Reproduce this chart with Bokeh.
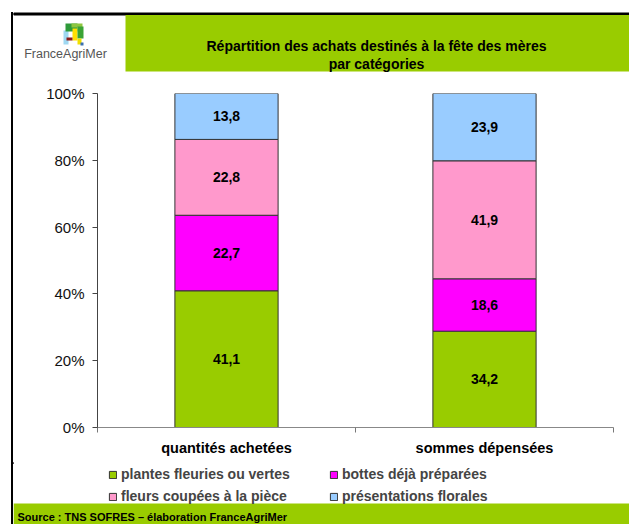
from bokeh.plotting import figure
from bokeh.layouts import column, row, Spacer
from bokeh.models import (ColumnDataSource, FixedTicker, NumeralTickFormatter, Range1d,
                          Legend, LegendItem, Div)
from bokeh.core.properties import value
from bokeh.embed import file_html
from bokeh.resources import INLINE

# ---- data ----
categories = ["quantités achetées", "sommes dépensées"]
series = ["plantes fleuries ou vertes", "bottes déjà préparées",
          "fleurs coupées à la pièce", "présentations florales"]
plantes = [41.1, 34.2]
bottes = [22.7, 18.6]
fleurs = [22.8, 41.9]
presentations = [13.8, 23.9]
colors = ["#99CC00", "#FF00FF", "#FF99CC", "#99CCFF"]
y_ticks = [0, 0.2, 0.4, 0.6, 0.8, 1.0]
title_lines = ["Répartition des achats destinés à la fête des mères", "par catégories"]
logo_text = "FranceAgriMer"
source_text = "Source : TNS SOFRES – élaboration FranceAgriMer"

FONT = "Liberation Sans"
W, H = 629, 524
PAD_W, STRIP_W, TOP_PAD = 11, 2, 12
X0 = PAD_W + STRIP_W           # left edge of the main column
CW = W - X0                    # width of the main column
HEAD_H, CHART_H, FOOT_H = 78, 384, 62
BAND_GREEN = "#99CC00"


def blank(width, height, fill="white"):
    f = figure(width=width, height=height, output_backend="svg", toolbar_location=None,
               x_range=Range1d(X0, X0 + width), y_range=Range1d(height, 0),
               min_border=0, min_border_left=0, min_border_right=0,
               min_border_top=0, min_border_bottom=0, frame_align=False)
    f.axis.visible = False
    f.grid.visible = False
    f.outline_line_color = None
    f.background_fill_color = fill
    f.border_fill_color = fill
    return f


# ---------------- header (x in page pixels) ----------------
head = blank(CW, HEAD_H)
head.quad(left=[X0], right=[W], top=[12.5], bottom=[14.5], color="black")
head.quad(left=[125], right=[W], top=[14.5], bottom=[71], color=BAND_GREEN, line_color=None)
logo = dict(
    l=[63, 65, 71, 72, 77, 66, 77, 80],
    r=[68, 77, 82, 77, 83, 72, 81, 83],
    t=[30, 23, 23, 28, 26, 37, 38, 42],
    b=[44, 31, 27, 40, 38, 40, 44, 45],
    c=["#9fd8f2", "#2e9a3a", "#8fc640", "#ffe000", "#3aa335", "#8b1a1a", "#f0e000", "#3a6fb0"],
)
head.quad(left="l", right="r", top="t", bottom="b", color="c", line_color=None,
          source=ColumnDataSource(logo))
head.text(x=[65], y=[53], text=[logo_text], text_align="center", text_baseline="middle",
          text_font=value(FONT), text_font_size="12.5px", text_color="#555555")
head.text(x=[376, 376], y=[45, 63], text=title_lines, text_align="center", text_baseline="middle",
          text_font=value(FONT), text_font_style="bold", text_font_size="14px", text_color="black")

# ---------------- chart ----------------
values = [plantes, bottes, fleurs, presentations]
keys = ["s0", "s1", "s2", "s3"]
totals = [sum(v[i] for v in values) for i in range(len(categories))]
xs = [i + 0.5 for i in range(len(categories))]
data = {"x": xs}
for k, v in zip(keys, values):
    data[k] = [v[i] / totals[i] for i in range(len(categories))]
src = ColumnDataSource(data)

lx, ly, lt = [], [], []
for i in range(len(categories)):
    cum = 0.0
    for v in values:
        share = v[i] / totals[i]
        lx.append(xs[i])
        ly.append(cum + share / 2)
        lt.append(f"{v[i]:.1f}".replace(".", ","))
        cum += share
lab_src = ColumnDataSource(dict(x=lx, y=ly, t=lt))

p = figure(width=CW, height=CHART_H, output_backend="svg", toolbar_location=None,
           x_range=Range1d(0, len(categories)), y_range=Range1d(0, 1),
           min_border_left=84, min_border_right=16, min_border_top=15, min_border_bottom=35,
           frame_align=False)
p.outline_line_color = None
p.xgrid.visible = False
p.ygrid.visible = False
p.background_fill_color = "white"
p.border_fill_color = "white"

rs = p.vbar_stack(keys, x="x", width=0.4, source=src, fill_color=colors,
                  line_color="#333333", line_width=1)
p.text(x="x", y="y", text="t", source=lab_src, text_align="center", text_baseline="middle",
       text_font=value(FONT), text_font_style="bold", text_font_size="14px", text_color="black")

p.yaxis.ticker = FixedTicker(ticks=y_ticks)
p.yaxis.formatter = NumeralTickFormatter(format="0%")
p.yaxis.major_label_text_font = FONT
p.yaxis.major_label_text_font_size = "15px"
p.yaxis.major_label_text_color = "#111111"
p.yaxis.major_tick_in = 0
p.yaxis.major_tick_out = 5
p.yaxis.minor_tick_line_color = None
p.yaxis.axis_line_color = "#444444"
p.yaxis.major_tick_line_color = "#444444"
p.yaxis.major_label_standoff = 8

p.xaxis.ticker = FixedTicker(ticks=xs, minor_ticks=list(range(len(categories) + 1)))
p.xaxis.major_label_overrides = {xs[i]: categories[i] for i in range(len(categories))}
p.xaxis.major_tick_in = 0
p.xaxis.major_tick_out = 0
p.xaxis.minor_tick_in = 0
p.xaxis.minor_tick_out = 5
p.xaxis.minor_tick_line_color = "#777777"
p.xaxis.axis_line_color = "#888888"
p.xaxis.major_label_text_font = FONT
p.xaxis.major_label_text_font_style = "bold"
p.xaxis.major_label_text_font_size = "14.5px"
p.xaxis.major_label_text_color = "black"
p.xaxis.major_label_standoff = 7

# ---------------- footer ----------------
foot = blank(CW, FOOT_H)
foot.quad(left=[X0], right=[W], top=[41], bottom=[FOOT_H], color=BAND_GREEN, line_color=None)
foot.text(x=[17], y=[54.5], text=[source_text], text_align="left", text_baseline="middle",
          text_font=value(FONT), text_font_style="bold", text_font_size="11px", text_color="black")
dummy_src = ColumnDataSource(dict(x=[-1000], top=[1]))
dummies = [foot.vbar(x="x", top="top", width=1, source=dummy_src, fill_color=c, line_color="#333333")
           for c in colors]
items = [LegendItem(label=series[i], renderers=[dummies[i]]) for i in range(len(series))]
leg = Legend(items=items, orientation="horizontal", ncols=2, location=(108 - X0, 20),
             label_text_font=FONT, label_text_font_style="bold", label_text_font_size="14px",
             glyph_width=9, glyph_height=9, label_standoff=4, label_width=202,
             label_height=16, spacing=6, padding=0, margin=0,
             border_line_color=None, background_fill_alpha=0)
foot.add_layout(leg, "center")

# ---------------- page frame: left border line spanning the whole height ----------------
border = Div(text="", width=STRIP_W, height=H - TOP_PAD, margin=0,
             styles={"background-color": "black"})
left_col = column(Spacer(width=STRIP_W, height=TOP_PAD, margin=0), border)
main_col = column(head, p, foot)
layout = row(Spacer(width=PAD_W, height=H, margin=0), left_col, main_col)
open("out.html", "w").write(file_html(layout, INLINE))
